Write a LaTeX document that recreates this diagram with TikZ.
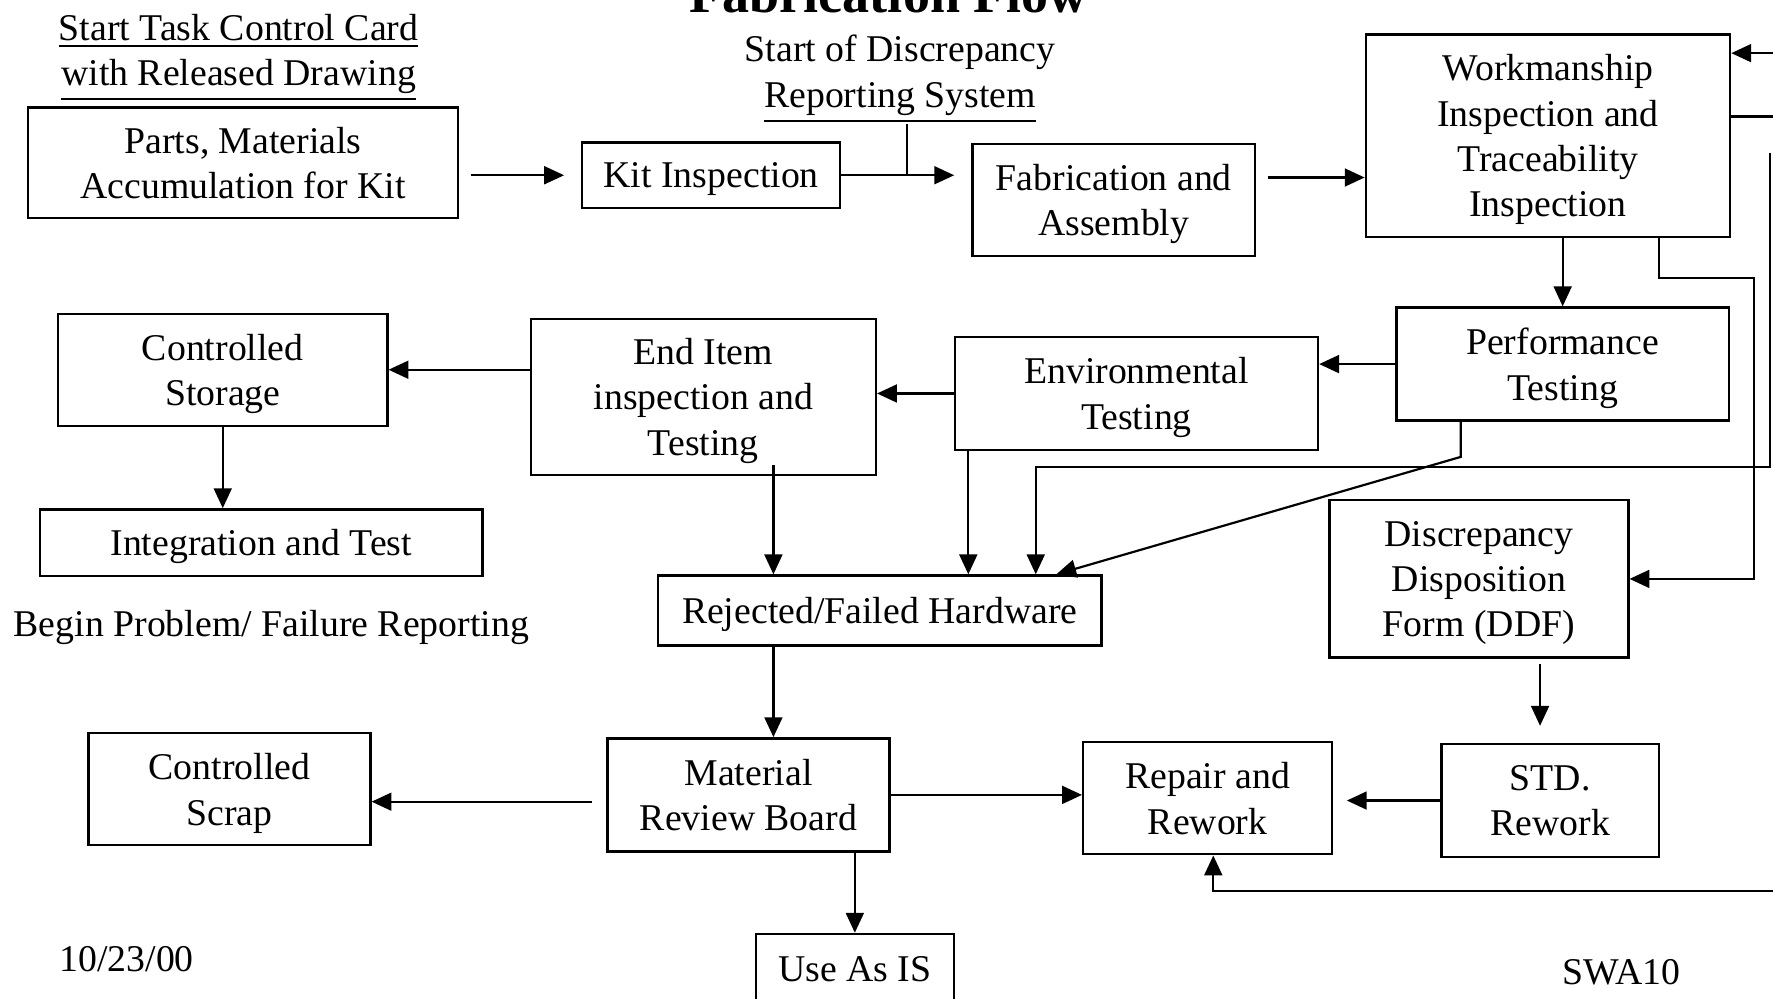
\documentclass[tikz,border=0pt]{standalone}
\usepackage{fontspec}
\setmainfont{Liberation Serif}
\usetikzlibrary{positioning, arrows.meta, calc}
\tikzset{
  blk/.style={draw, line width=0.6pt, align=center, inner sep=0pt, text depth=0pt, font=\fontsize{9.5}{11.4}\selectfont},
  lbl/.style={align=center, inner sep=0pt, font=\fontsize{9.5}{11.4}\selectfont},
  flow/.style={->, line width=0.55pt},
  wire/.style={line width=0.55pt},
}

\begin{document}
\begin{tikzpicture}[x=0.01cm, y=-0.01cm, >={Triangle[length=5pt, width=4.5pt]}]
  \useasboundingbox (0,0) rectangle (1568,883);
  \clip (0,0) rectangle (1568,883);

  % headings and loose text
  \node[lbl, font=\bfseries\fontsize{13.6}{16}\selectfont, anchor=base] (title) at (786,11) {Fabrication Flow};
  \node[lbl] (card) at (211,51) {\underline{Start Task Control Card}\\ \underline{with Released Drawing}};
  \node[lbl] (drs) at (796,70) {Start of Discrepancy\\ \underline{Reporting System}};
  \node[lbl] (begin) at (240,555) {Begin Problem/ Failure Reporting};
  \node[lbl] (date) at (112,848) {10/23/00};
  \node[lbl] (swa) at (1434,860) {SWA10};

  % boxes
  \node[blk, minimum width=3.80cm, minimum height=0.98cm] (parts) at (215,144) {Parts, Materials\\ Accumulation for Kit};
  \node[blk, minimum width=2.28cm, minimum height=0.58cm] (kit) at (629,155) {Kit Inspection};
  \node[blk, minimum width=2.50cm, minimum height=0.99cm] (fab) at (985,177) {Fabrication and\\ Assembly};
  \node[blk, minimum width=3.22cm, minimum height=1.79cm] (work) at (1369,120) {Workmanship\\ Inspection and\\ Traceability\\ Inspection};
  \node[blk, minimum width=2.94cm, minimum height=1.00cm] (perf) at (1382,322) {Performance\\ Testing};
  \node[blk, minimum width=3.21cm, minimum height=1.00cm] (env) at (1005,348) {Environmental\\ Testing};
  \node[blk, minimum width=3.05cm, minimum height=1.38cm] (enditem) at (622,351) {End Item\\ inspection and\\ Testing};
  \node[blk, minimum width=2.91cm, minimum height=0.99cm] (storage) at (197,327) {Controlled\\ Storage};
  \node[blk, minimum width=3.91cm, minimum height=0.59cm] (integ) at (231,480) {Integration and Test};
  \node[blk, minimum width=3.92cm, minimum height=0.62cm] (rejected) at (778,540) {Rejected/Failed Hardware};
  \node[blk, minimum width=2.64cm, minimum height=1.39cm] (ddf) at (1308,512) {Discrepancy\\ Disposition\\ Form (DDF)};
  \node[blk, minimum width=2.49cm, minimum height=1.00cm] (mrb) at (662,703) {Material\\ Review Board};
  \node[blk, minimum width=2.49cm, minimum height=0.99cm] (scrap) at (203,698) {Controlled\\ Scrap};
  \node[blk, minimum width=2.20cm, minimum height=0.99cm] (repair) at (1068,706) {Repair and\\ Rework};
  \node[blk, minimum width=1.92cm, minimum height=1.00cm] (std) at (1371,708) {STD.\\ Rework};
  \node[blk, minimum width=1.75cm, minimum height=0.62cm] (useas) at (756,857) {Use As IS};

  % top row
  \draw[flow, shorten <=0.1cm, shorten >=0.15cm] (kit.west -| parts.east) -- (kit.west);
  \draw[flow, shorten >=0.15cm] (kit.east) -- (kit.east -| fab.west);
  \coordinate (rs) at ($(drs.south)+(6,0)$);
  \draw[wire] (rs) -- (rs |- kit.east);
  \coordinate (fw) at ($(fab.east)+(10,-20)$);
  \draw[flow] (fw) -- (fw -| work.west);

  % lines running off the right edge
  \coordinate (rt1) at (1568,47);
  \draw[flow] (rt1) -- (rt1 -| work.east);
  \coordinate (rt2) at (1568,103);
  \draw[wire] (rt2 -| work.east) -- (rt2);
  \coordinate (rt3) at (1565,135);
  \coordinate (rt3b) at (1565,413);
  \coordinate (rj) at ($(rejected.north)+(138,0)$);
  \draw[flow] (rt3) -- (rt3b) -| (rj);
  \coordinate (rt4) at (1568,788);
  \coordinate (rp) at ($(repair.south)+(5,0)$);
  \draw[flow] (rt4) -| (rp);

  % inspection and testing
  \draw[flow] (work.south -| perf.north) -- (perf.north);
  \coordinate (wd) at ($(work.south)+(98,0)$);
  \coordinate (wd2) at ($(wd)+(84,35)$);
  \draw[flow] (wd) -- (wd |- wd2) -- (wd2) |- (ddf.east);
  \draw[flow] (perf.west) -- (perf.west -| env.east);
  \draw[flow] (env.west) -- (env.west -| enditem.east);
  \draw[flow] (storage.east -| enditem.west) -- (storage.east);
  \draw[flow] (storage.south) -- (storage.south |- integ.north);

  % into rejected hardware
  \coordinate (ei) at ($(enditem.south)+(62,-10)$);
  \draw[flow] (ei) -- (ei |- rejected.north);
  \coordinate (ev) at ($(env.south west)+(13,0)$);
  \draw[flow] (ev) -- (ev |- rejected.north);
  \coordinate (pf) at ($(perf.south west)+(58,0)$);
  \draw[flow] (pf) -- ++(0,31) -- ($(rejected.north east)+(-41,0)$);

  % disposition
  \coordinate (rm) at (rejected.south -| ei);
  \draw[flow] (rm) -- (rm |- mrb.north);
  \coordinate (ms) at ($(mrb.west)+(-13,6)$);
  \draw[flow] (ms) -- (ms -| scrap.east);
  \draw[flow] (mrb.east) -- (mrb.east -| repair.west);
  \draw[flow, shorten >=0.12cm] (std.west) -- (std.west -| repair.east);
  \coordinate (ds) at ($(ddf.south)+(54,5)$);
  \draw[flow, shorten >=0.15cm] (ds) -- (ds |- std.north);
  \draw[flow] (useas.north |- mrb.south) -- (useas.north);
\end{tikzpicture}
\end{document}
